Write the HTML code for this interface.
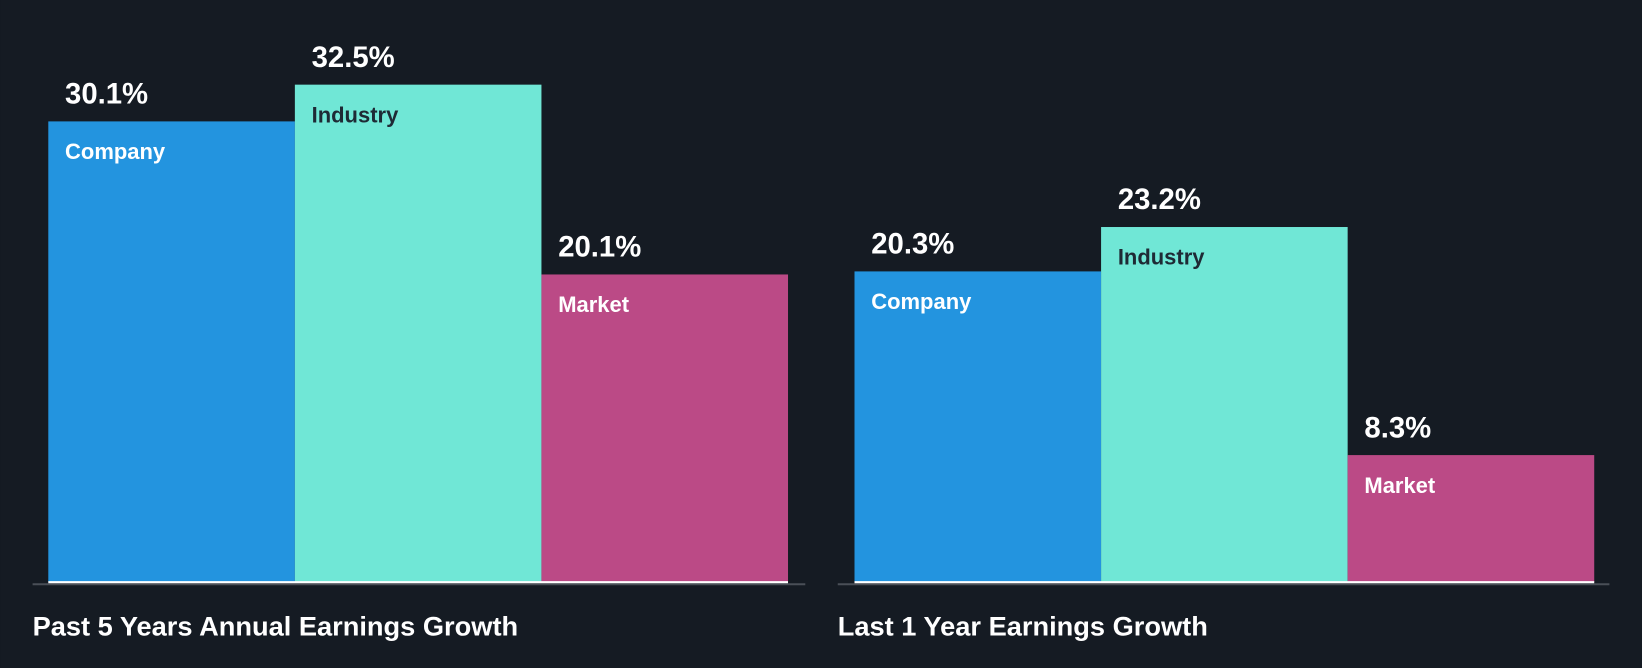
<!DOCTYPE html>
<html><head><meta charset="utf-8"><style>
html,body{margin:0;padding:0;background:#151b23;}
svg{display:block;font-family:"Liberation Sans",sans-serif;font-weight:bold;}
</style></head><body>
<svg id="chart" width="1642" height="668" viewBox="0 0 1568 638" xmlns="http://www.w3.org/2000/svg">
<rect width="1568" height="638" fill="#151b23"/>
</svg>
<script>
const groups = ["Past 5 Years Annual Earnings Growth", "Last 1 Year Earnings Growth"];
const categories = ["Company", "Industry", "Market"];
const past5Values = [30.1, 32.5, 20.1];
const last1Values = [20.3, 23.2, 8.3];
const valueLabels5 = ["30.1%", "32.5%", "20.1%"];
const valueLabels1 = ["20.3%", "23.2%", "8.3%"];

const svg = document.getElementById('chart');
const NS = 'http://www.w3.org/2000/svg';
const baseY = 556, pxPerUnit = 14.62;
const yScale = v => baseY - v * pxPerUnit;
const colors = ["#2394df", "#70e7d6", "#bb4a86"];
const labelColors = ["#ffffff", "#1e2a35", "#ffffff"];
const groupX = [46, 816], barW = 235.5;
const axisX = [[31, 769], [800, 1537]];
const series = [past5Values, last1Values];
const vlabels = [valueLabels5, valueLabels1];

function mk(tag, attrs, text) {
  const e = document.createElementNS(NS, tag);
  for (const k in attrs) e.setAttribute(k, attrs[k]);
  if (text !== undefined) e.textContent = text;
  svg.appendChild(e);
  return e;
}
groups.forEach((g, gi) => {
  const ax = mk('line', {x1: axisX[gi][0], x2: axisX[gi][1], y1: 558, y2: 558, stroke: '#4a4f57', 'stroke-width': 2});
  
  
  series[gi].forEach((v, i) => {
    const x = groupX[gi] + i * barW;
    const top = yScale(v);
    const r = mk('rect', {x: x, y: top, width: barW, height: baseY - top, fill: colors[i]});
    
    
    const vl = mk('text', {x: x + 16, y: top - 17, fill: '#ffffff', 'font-size': 28}, vlabels[gi][i]);
    
    
    const cl = mk('text', {x: x + 16, y: top + 36, fill: labelColors[i], 'font-size': 21}, categories[i]);
    
    
  });
  const bl = mk('line', {x1: groupX[gi], x2: groupX[gi] + 3 * barW, y1: 556, y2: 556, stroke: '#ffffff', 'stroke-width': 2});
  
  
  const t = mk('text', {x: axisX[gi][0], y: 607, fill: '#ffffff', 'font-size': 26}, g);
  
  
});
</script>
</body></html>
